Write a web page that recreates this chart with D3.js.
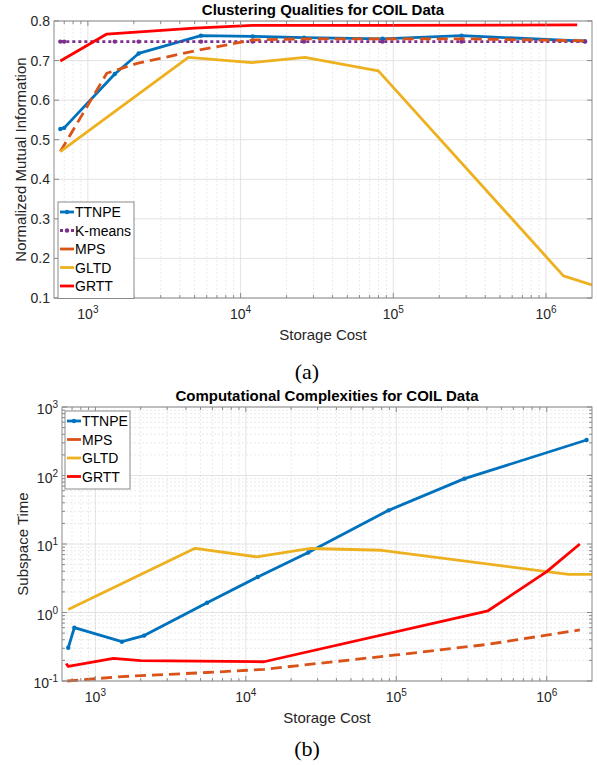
<!DOCTYPE html>
<html>
<head>
<meta charset="utf-8">
<script src="https://cdnjs.cloudflare.com/ajax/libs/d3/7.8.5/d3.min.js"></script>
<style>
  body { margin: 0; background: #fff; }
  svg text { font-family: Arial, "Liberation Sans", sans-serif; fill: #262626; }
  .title { font-weight: bold; font-size: 15px; fill: #000; }
  .tick-label { font-size: 14px; }
  .axis-label { font-size: 15px; }
  .legend-text { font-size: 14px; fill: #000; }
  .caption { font-family: "Liberation Serif", "Times New Roman", serif; font-size: 22px; fill: #000; }
</style>
</head>
<body>
<svg id="chart" width="597" height="765"></svg>
<script>
// ---------- data: (a) clustering quality ----------
var nmiTTNPE  = [[660,0.527],[700,0.530],[1500,0.666],[2150,0.718],[5500,0.763],[12000,0.761],[26000,0.758],[85000,0.755],[280000,0.763],[1.8e6,0.749]];
var nmiKmeans = [[660,0.748],[700,0.748],[1500,0.748],[2150,0.748],[5500,0.748],[12000,0.748],[26000,0.748],[85000,0.748],[280000,0.748],[1.8e6,0.748]];
var nmiMPS    = [[660,0.470],[1330,0.668],[2100,0.693],[5400,0.727],[12000,0.752],[26000,0.755],[85000,0.755],[280000,0.755],[1.8e6,0.750]];
var nmiGLTD   = [[660,0.470],[4550,0.708],[11900,0.695],[26400,0.708],[79800,0.674],[1.3e6,0.156],[2e6,0.133]];
var nmiGRTT   = [[660,0.699],[1330,0.767],[5000,0.782],[12000,0.789],[85000,0.789],[1.6e6,0.790]];

// ---------- data: (b) computational time ----------
var timeTTNPE = [[660,0.306],[725,0.60],[1500,0.375],[2110,0.46],[5530,1.39],[12000,3.3],[26000,7.5],[89000,31],[284000,90],[1.84e6,330]];
var timeMPS   = [[650,0.100],[1500,0.116],[5500,0.133],[13200,0.148],[100000,0.24],[407000,0.343],[1e6,0.467],[1.66e6,0.556]];
var timeGLTD  = [[660,1.11],[4600,8.65],[11800,6.5],[27000,8.6],[80000,8.1],[1e6,3.95],[1.4e6,3.6],[2e6,3.6]];
var timeGRTT  = [[640,0.180],[660,0.163],[1320,0.214],[2000,0.198],[13200,0.191],[407000,1.06],[1e6,3.95],[1.66e6,10]];

var xDomain = [600, 2e6];
var xTickExps = [3, 4, 5, 6];
var nmiTicks = [0.1, 0.2, 0.3, 0.4, 0.5, 0.6, 0.7, 0.8];
var timeTickExps = [-1, 0, 1, 2, 3];

var C = {blue: "#0072BD", orange: "#D95319", yellow: "#EDB120", purple: "#7E2F8E", red: "#FF0000"};

var svg = d3.select("#chart");

function minorLog(domain) {
  var out = [];
  for (var e = -3; e <= 7; e++)
    for (var k = 2; k <= 9; k++) {
      var v = k * Math.pow(10, e);
      if (v > domain[0] && v < domain[1]) out.push(v);
    }
  return out;
}

function sup(sel, exp) {
  sel.append("tspan").text("10");
  sel.append("tspan").attr("dy", -6).style("font-size", "10px").text(exp);
}

function drawFrame(g, x, y, opt) {
  var x0 = x.range()[0], x1 = x.range()[1], y0 = y.range()[0], y1 = y.range()[1];
  var xMinor = minorLog(x.domain());
  var xMajor = xTickExps.map(function(e) { return Math.pow(10, e); });
  var yMinor = opt.ylog ? minorLog(y.domain()) : [];
  var yMajor = opt.ylog ? timeTickExps.map(function(e) { return Math.pow(10, e); }) : nmiTicks;

  // minor grid
  g.selectAll(".mgx").data(xMinor).enter().append("line")
    .attr("x1", x).attr("x2", x).attr("y1", y0).attr("y2", y1)
    .attr("stroke", "#e4e4e4").attr("stroke-dasharray", "2,2").attr("stroke-width", 0.8);
  g.selectAll(".mgy").data(yMinor).enter().append("line")
    .attr("y1", y).attr("y2", y).attr("x1", x0).attr("x2", x1)
    .attr("stroke", "#e4e4e4").attr("stroke-dasharray", "2,2").attr("stroke-width", 0.8);
  // major grid
  g.selectAll(".gx").data(xMajor).enter().append("line")
    .attr("x1", x).attr("x2", x).attr("y1", y0).attr("y2", y1)
    .attr("stroke", "#dcdcdc").attr("stroke-width", 0.8);
  g.selectAll(".gy").data(yMajor).enter().append("line")
    .attr("y1", y).attr("y2", y).attr("x1", x0).attr("x2", x1)
    .attr("stroke", "#dcdcdc").attr("stroke-width", 0.8);
}

function drawAxes(g, x, y, opt) {
  var x0 = x.range()[0], x1 = x.range()[1], y0 = y.range()[0], y1 = y.range()[1];
  var xMinor = minorLog(x.domain());
  var xMajor = xTickExps.map(function(e) { return Math.pow(10, e); });
  var yMinor = opt.ylog ? minorLog(y.domain()) : [];
  var yMajor = opt.ylog ? timeTickExps.map(function(e) { return Math.pow(10, e); }) : nmiTicks;
  var tc = "#8a8a8a";

  // ticks inside, on all four sides
  [[xMajor, 5], [xMinor, 3]].forEach(function(p) {
    g.selectAll(null).data(p[0]).enter().append("line")
      .attr("x1", x).attr("x2", x).attr("y1", y0).attr("y2", y0 - p[1]).attr("stroke", tc);
    g.selectAll(null).data(p[0]).enter().append("line")
      .attr("x1", x).attr("x2", x).attr("y1", y1).attr("y2", y1 + p[1]).attr("stroke", tc);
  });
  [[yMajor, 5], [yMinor, 3]].forEach(function(p) {
    g.selectAll(null).data(p[0]).enter().append("line")
      .attr("y1", y).attr("y2", y).attr("x1", x0).attr("x2", x0 + p[1]).attr("stroke", tc);
    g.selectAll(null).data(p[0]).enter().append("line")
      .attr("y1", y).attr("y2", y).attr("x1", x1).attr("x2", x1 - p[1]).attr("stroke", tc);
  });

  g.append("rect").attr("x", x0).attr("y", y1).attr("width", x1 - x0).attr("height", y0 - y1)
    .attr("fill", "none").attr("stroke", tc).attr("stroke-width", 1);

  // x tick labels
  g.selectAll(".xtl").data(xTickExps).enter().append("text")
    .attr("class", "tick-label")
    .attr("x", function(e) { return x(Math.pow(10, e)); })
    .attr("y", y0 + 21)
    .attr("text-anchor", "middle")
    .each(function(e) { sup(d3.select(this), e); });

  // y tick labels
  if (opt.ylog) {
    g.selectAll(".ytl").data(timeTickExps).enter().append("text")
      .attr("class", "tick-label")
      .attr("x", x0 - 4).attr("y", function(e) { return y(Math.pow(10, e)) + 7; })
      .attr("text-anchor", "end")
      .each(function(e) { sup(d3.select(this), e); });
  } else {
    g.selectAll(".ytl").data(nmiTicks).enter().append("text")
      .attr("class", "tick-label")
      .attr("x", x0 - 4).attr("y", function(d) { return y(d) + 5; })
      .attr("text-anchor", "end")
      .text(function(d) { return d.toFixed(1); });
  }

  g.append("text").attr("class", "title")
    .attr("x", (x0 + x1) / 2).attr("y", y1 - 6).attr("text-anchor", "middle").text(opt.title);
  g.append("text").attr("class", "axis-label")
    .attr("x", (x0 + x1) / 2).attr("y", y0 + 42).attr("text-anchor", "middle").text("Storage Cost");
  g.append("text").attr("class", "axis-label")
    .attr("transform", "translate(" + opt.ylabelX + "," + (y0 + y1) / 2 + ") rotate(-90)")
    .attr("text-anchor", "middle").text(opt.ylabel);
}

function drawSeries(g, x, y, s, clipId) {
  var line = d3.line().x(function(d) { return x(d[0]); }).y(function(d) { return y(d[1]); });
  var path = g.append("path").datum(s.data)
    .attr("d", line)
    .attr("fill", "none")
    .attr("stroke", s.color)
    .attr("stroke-width", s.width || 2.8)
    .attr("stroke-linejoin", "round")
    .attr("clip-path", "url(#" + clipId + ")");
  if (s.dash) path.attr("stroke-dasharray", s.dash);
  if (s.marker) {
    g.selectAll(null).data(s.data).enter().append("circle")
      .attr("cx", function(d) { return x(d[0]); })
      .attr("cy", function(d) { return y(d[1]); })
      .attr("r", 2.2).attr("fill", s.color);
  }
}

function drawLegend(g, series, lx, ly, w) {
  var rowH = 18.5;
  g.append("rect").attr("x", lx).attr("y", ly).attr("width", w).attr("height", series.length * rowH + 4)
    .attr("fill", "#fff").attr("stroke", "#8a8a8a");
  series.forEach(function(s, i) {
    var cy = ly + 10 + i * rowH;
    var ln = g.append("line").attr("x1", lx + 2).attr("x2", lx + 16).attr("y1", cy).attr("y2", cy)
      .attr("stroke", s.color).attr("stroke-width", 2.8);
    if (s.dash === "3,3") ln.attr("stroke-dasharray", "3,2.5");
    if (s.marker) g.append("circle").attr("cx", lx + 9).attr("cy", cy).attr("r", 2.2).attr("fill", s.color);
    g.append("text").attr("class", "legend-text").attr("x", lx + 17).attr("y", cy + 5).text(s.name);
  });
}

function panel(x, y, seriesList, opt) {
  var g = svg.append("g");
  var x0 = x.range()[0], x1 = x.range()[1], y0 = y.range()[0], y1 = y.range()[1];
  svg.append("clipPath").attr("id", opt.clip).append("rect")
    .attr("x", x0).attr("y", y1 - 2).attr("width", x1 - x0).attr("height", y0 - y1 + 4);
  drawFrame(g, x, y, opt);
  seriesList.forEach(function(s) { drawSeries(g, x, y, s, opt.clip); });
  drawAxes(g, x, y, opt);
  drawLegend(g, seriesList, opt.legend[0], opt.legend[1], opt.legend[2]);
}

// (a)
var xA = d3.scaleLog().domain(xDomain).range([54, 592]);
var yA = d3.scaleLinear().domain([0.1, 0.8]).range([298, 21]);
panel(xA, yA, [
  {name: "TTNPE", data: nmiTTNPE, color: C.blue, marker: true},
  {name: "K-means", data: nmiKmeans, color: C.purple, dash: "3,3", marker: true},
  {name: "MPS", data: nmiMPS, color: C.orange, dash: "11,6"},
  {name: "GLTD", data: nmiGLTD, color: C.yellow},
  {name: "GRTT", data: nmiGRTT, color: C.red}
], {title: "Clustering Qualities for COIL Data", ylabel: "Normalized Mutual Information",
    ylabelX: 26, ylog: false, clip: "clipA", legend: [58, 202, 76]});

// (b)
var xB = d3.scaleLog().domain(xDomain).range([62, 592]);
var yB = d3.scaleLog().domain([0.1, 1000]).range([681, 407]);
panel(xB, yB, [
  {name: "TTNPE", data: timeTTNPE, color: C.blue, marker: true},
  {name: "MPS", data: timeMPS, color: C.orange, dash: "11,6"},
  {name: "GLTD", data: timeGLTD, color: C.yellow},
  {name: "GRTT", data: timeGRTT, color: C.red}
], {title: "Computational Complexities for COIL Data", ylabel: "Subspace Time",
    ylabelX: 28, ylog: true, clip: "clipB", legend: [65, 411, 65]});

svg.append("text").attr("class", "caption").attr("x", 307).attr("y", 379).attr("text-anchor", "middle").text("(a)");
svg.append("text").attr("class", "caption").attr("x", 307).attr("y", 756).attr("text-anchor", "middle").text("(b)");
</script>
</body>
</html>
